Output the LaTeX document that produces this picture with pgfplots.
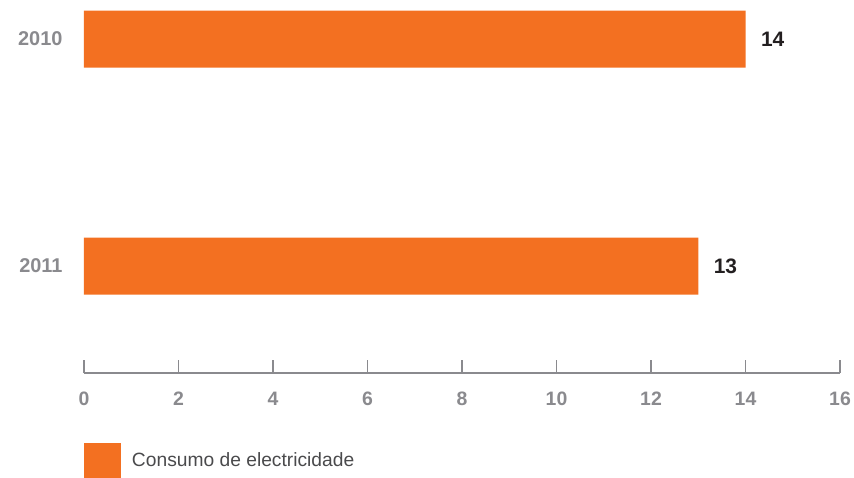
\documentclass[border=0pt]{standalone}
\usepackage{pgfplots}
\pgfplotsset{compat=1.18}
\usepackage{fontspec}
\setmainfont{Liberation Sans}
\definecolor{barorange}{HTML}{F37021}
\definecolor{axgray}{HTML}{8A8A8E}
\definecolor{txtgray}{HTML}{4A4A4C}
\definecolor{valdark}{HTML}{231F20}
\begin{document}
\begin{tikzpicture}
\path[use as bounding box] (-84bp,-105bp) rectangle (770bp,373bp);
\begin{axis}[
  scale only axis,
  width=756bp, height=368bp,
  xmin=0, xmax=16,
  ymin=-0.15, ymax=1.471,
  y dir=reverse,
  axis x line=bottom,
  axis y line=left,
  x axis line style={-, draw=axgray, line width=1.8bp},
  y axis line style={draw=none},
  xtick={0,2,...,16},
  ytick={0,1},
  yticklabels={2010,2011},
  tick align=inside,
  major tick length=13bp,
  x tick style={draw=axgray, line width=1.8bp},
  y tick style={draw=none},
  /pgf/number format/assume math mode=true,
  x tick label style={font=\fontsize{19.5}{21}\selectfont\bfseries, text=axgray, anchor=base, yshift=-32bp},
  y tick label style={font=\fontsize{20}{22}\selectfont\bfseries, text=axgray, xshift=-5bp},
  xbar,
  bar width=57bp,
  nodes near coords,
  nodes near coords align={horizontal},
  every node near coord/.append style={font=\fontsize{21}{23}\selectfont\bfseries, text=valdark, xshift=12bp},
  legend style={at={(0,0)}, anchor=north west, yshift=-70bp, draw=none, fill=none,
    inner sep=0pt, outer sep=0pt,
    font=\fontsize{19.3}{21}\selectfont, text=txtgray,
    /tikz/every odd column/.append style={column sep=9bp}},
  legend image code/.code={\fill[barorange] (0bp,-17.5bp) rectangle (37bp,17.5bp);},
  clip=false,
]
\addplot[fill=barorange, draw=none] coordinates {(14,0) (13,1)};
\addlegendentry{Consumo de electricidade}
\end{axis}
\end{tikzpicture}
\end{document}
